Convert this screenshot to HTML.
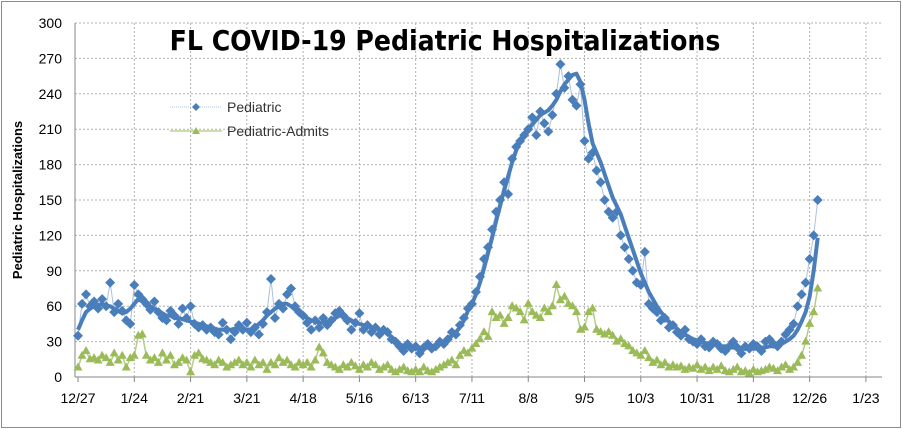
<!DOCTYPE html>
<html><head><meta charset="utf-8">
<style>
html,body{margin:0;padding:0;background:#fff;}
svg{display:block;font-family:"Liberation Sans",sans-serif;}
</style></head>
<body>
<svg id="chart" width="902" height="429" viewBox="0 0 902 429">
<rect x="1.5" y="1.5" width="899" height="426" fill="#fff" stroke="#8c8c8c"/>
<g id="grid"></g>
<g id="axes"></g>
<g id="series"></g>
<text x="445" y="50" text-anchor="middle" font-size="28" font-weight="bold" fill="#000" style="font-family:'DejaVu Sans Condensed','Liberation Sans Narrow','Liberation Sans',sans-serif">FL COVID-19 Pediatric Hospitalizations</text>
<text transform="translate(22,200) rotate(-90)" text-anchor="middle" font-size="13" font-weight="bold">Pediatric Hospitalizations</text>
<g>
<g>
<line x1="170" y1="107" x2="222" y2="107" stroke="#a9c1e2" stroke-width="1" stroke-dasharray="1,1"/>
<path d="M196 103 L200 107 L196 111 L192 107Z" fill="#4a7ebb"/>
<text x="227" y="112" font-size="14" fill="#333">Pediatric</text>
</g>
<g>
<line x1="170" y1="131" x2="222" y2="131" stroke="#9bbb59" stroke-width="1"/>
<path d="M196 127 L200 134 L192 134Z" fill="#9bbb59"/>
<text x="227" y="136" font-size="14" fill="#333">Pediatric-Admits</text>
</g>
</g>
</svg>
<script>
const pediatric = [
35,62,70,60,64,58,66,60,80,55,62,56,48,45,
78,70,66,62,57,64,55,50,48,56,52,45,58,50,
60,45,42,44,40,42,38,36,46,40,32,38,44,40,
46,38,42,36,45,55,83,50,62,58,70,75,60,55,
52,46,40,48,42,50,44,48,54,56,52,48,40,46,
54,40,44,38,42,36,40,38,32,30,26,22,28,24,
26,20,25,28,24,26,30,28,32,38,36,44,50,58,
62,72,85,100,110,125,140,150,165,155,185,195,200,205,
210,220,205,225,215,208,222,240,265,245,255,235,230,248,
200,185,190,175,165,150,140,135,140,120,110,100,90,80,
78,106,62,58,55,48,50,42,44,38,35,40,32,30,
28,32,26,25,30,28,24,22,26,30,25,20,26,24,
28,26,22,30,32,28,26,30,36,40,45,60,70,80,
100,120,150];
const trend = [
40,48,55,58,60,61,62,60,60,58,56,54,55,58,
62,66,64,62,60,58,56,54,52,52,50,50,49,48,
47,46,45,44,43,42,41,40,40,40,40,41,41,41,
40,40,42,45,48,52,55,58,60,62,62,60,57,54,
52,50,48,47,46,46,47,48,50,52,52,50,48,46,
45,44,43,42,41,40,39,37,34,31,28,26,25,24,
24,24,24,25,26,27,28,30,32,35,38,42,48,56,
62,70,80,92,105,118,132,145,158,170,182,192,200,206,
210,214,218,222,224,226,230,235,242,248,252,256,257,250,
235,215,198,190,182,172,162,152,145,138,128,118,108,98,
88,80,72,66,60,55,51,47,44,41,38,36,34,32,
31,30,29,28,27,27,26,26,25,25,24,24,24,24,
24,24,25,25,26,26,27,28,30,32,35,40,47,55,
68,90,118];
const admits = [
8,18,22,15,16,14,18,16,12,20,14,18,8,16,
18,35,36,18,14,16,12,20,14,18,10,12,16,14,
4,18,20,15,14,12,10,14,12,8,10,12,14,10,
12,8,14,10,12,6,12,10,16,12,14,10,8,12,
10,12,8,14,25,20,12,10,8,6,10,8,12,9,
6,10,8,12,10,6,8,10,6,4,6,8,5,4,
6,4,8,5,4,6,8,10,12,14,10,18,22,20,
24,28,32,38,34,55,50,52,45,50,60,58,55,48,
62,55,52,50,58,55,60,78,65,68,62,60,55,40,
42,55,58,40,38,36,38,35,30,32,28,26,22,20,
18,22,16,12,14,10,12,8,10,8,9,6,8,7,
10,6,8,5,8,6,9,5,4,6,8,4,5,3,
6,4,5,6,8,7,5,8,10,6,8,12,18,30,
45,55,75];
const xLabels = ["12/27","1/24","2/21","3/21","4/18","5/16","6/13","7/11","8/8","9/5","10/3","10/31","11/28","12/26","1/23"];
const yTicks = [0,30,60,90,120,150,180,210,240,270,300];
const dayStep = 2;
const tickDays = 28;

const NS = "http://www.w3.org/2000/svg";
const plotL = 75, plotR = 882, plotT = 23, plotB = 377;
const x = d => 78 + d * 2.01;
const y = v => plotB - v * (plotB - plotT) / 300;
function mk(tag, attrs, parent){const e=document.createElementNS(NS,tag);for(const k in attrs)e.setAttribute(k,attrs[k]);parent.appendChild(e);return e;}
const grid=document.getElementById('grid'), axes=document.getElementById('axes'), series=document.getElementById('series');

yTicks.forEach(t=>{
  if(t>0){const g=mk('line',{x1:plotL,x2:plotR,y1:y(t),y2:y(t),stroke:'#b0b0b0','stroke-dasharray':'2,2'},grid);
  
  }
  const l=mk('text',{x:62,y:y(t)+5,'text-anchor':'end','font-size':14,fill:'#000'},axes);
  l.textContent=t;
  
  
});
xLabels.forEach((s,i)=>{
  const xx=x(i*tickDays);
  if(i>0){const g=mk('line',{x1:xx,x2:xx,y1:plotT,y2:plotB,stroke:'#b0b0b0','stroke-dasharray':'2,2'},grid);
  
  }
  const tk=mk('line',{x1:xx,x2:xx,y1:plotB,y2:plotB+5,stroke:'#868686'},axes);
  
  
  const l=mk('text',{x:xx,y:403,'text-anchor':'middle','font-size':14,fill:'#000'},axes);
  l.textContent=s;
  
  
});
const xa=mk('line',{x1:plotL,x2:plotR,y1:plotB,y2:plotB,stroke:'#868686'},axes);


const ya=mk('line',{x1:plotL,x2:plotL,y1:plotT,y2:plotB,stroke:'#868686'},axes);



function pts(arr){return arr.map((v,i)=>x(i*dayStep).toFixed(1)+','+y(v).toFixed(1)).join(' ');}
const pl=mk('polyline',{points:pts(pediatric),fill:'none',stroke:'#a9c1e2','stroke-width':1},series);


const al=mk('polyline',{points:pts(admits),fill:'none',stroke:'#b5cc88','stroke-width':1.5},series);


admits.forEach((v,i)=>{
  const cx=x(i*dayStep), cy=y(v);
  const p=mk('path',{d:`M${cx} ${cy-5} L${cx+4.5} ${cy+3} L${cx-4.5} ${cy+3}Z`,fill:'#9bbb59'},series);
  
  
});
pediatric.forEach((v,i)=>{
  const cx=x(i*dayStep), cy=y(v);
  const p=mk('path',{d:`M${cx} ${cy-5} L${cx+5} ${cy} L${cx} ${cy+5} L${cx-5} ${cy}Z`,fill:'#4a7ebb'},series);
  
  
});
const tl=mk('polyline',{points:pts(trend),fill:'none',stroke:'#4a7ebb','stroke-width':4,'stroke-linejoin':'round'},series);


</script>
</body></html>
